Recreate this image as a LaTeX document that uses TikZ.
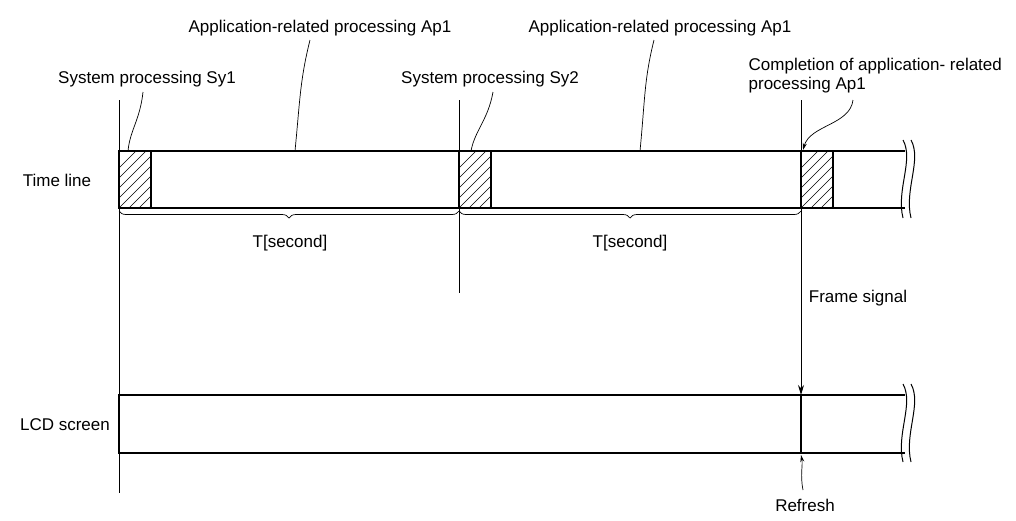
\documentclass[tikz,border=0pt]{standalone}
\usepackage{fontspec}
\setmainfont{Liberation Sans}
\usetikzlibrary{decorations.pathreplacing,arrows.meta}
\begin{document}
\begin{tikzpicture}[x=1pt,y=-1pt,line width=1.3pt,
  lbl/.style={font=\fontsize{17}{19}\selectfont,inner sep=0pt},
  lead/.style={line width=0.7pt},
  brk/.style={line width=1pt}]
\useasboundingbox (0,0) rectangle (1016,520);
% timeline
\draw (119,151) -- (905,151) (119,208) -- (905,208);
\foreach \x in {119,459,801}{
  \begin{scope}
  \clip (\x,151) rectangle (\x+32,208);
  \foreach \k in {-40,-30,...,60}{\draw[line width=0.6pt] (\x+\k,208) -- (\x+\k+57,151);}
  \end{scope}
  \draw (\x,151) rectangle (\x+32,208);
}
\foreach \o in {0,8}{\draw[brk] (903+\o,140) .. controls (914+\o,160) and (896+\o,190) .. (903+\o,218);}
% LCD
\draw (119,395) rectangle (801,453);
\draw (801,395) -- (905,395) (801,453) -- (905,453);
\foreach \o in {0,8}{\draw[brk] (903+\o,384) .. controls (914+\o,404) and (896+\o,434) .. (903+\o,462);}
% verticals
\draw[lead] (119,100) -- (119,493);
\draw[lead] (459,100) -- (459,293);
\coordinate (fs) at (801,100);
\coordinate (lcdtop) at (801,395);
\draw[line width=1pt,-{Stealth[length=10pt,width=6pt]}] (fs) -- (lcdtop);
% braces
\draw[lead,decorate,decoration={brace,mirror,amplitude=7pt}] (119,211) -- (459,211);
\draw[lead,decorate,decoration={brace,mirror,amplitude=7pt}] (459,211) -- (801,211);
\node[lbl] (t1) at (290,243) {T[second]};
\node[lbl] (t2) at (630,243) {T[second]};
% labels
\node[lbl] (tl) at (57,180) {Time line};
\node[lbl] (lcd) at (65,425) {LCD screen};
\node[lbl] (ap1) at (320,28) {Application-related processing Ap1};
\node[lbl] (ap2) at (660,28) {Application-related processing Ap1};
\node[lbl] (sy1) at (147,79) {System processing Sy1};
\node[lbl] (sy2) at (490,79) {System processing Sy2};
\node[lbl,align=left,anchor=west] (cp) at (748,76) {Completion of application- related\\processing Ap1};
\node[lbl] (fsl) at (858,298) {Frame signal};
\node[lbl] (rf) at (805,505) {Refresh};
\draw[lead] (310,40) .. controls (300,80) and (300,100) .. (295,151);
\draw[lead] (654,40) .. controls (644,80) and (645,100) .. (640,151);
\draw[lead] (143,92) .. controls (140,120) and (130,130) .. (128,151);
\draw[lead] (493,92) .. controls (488,120) and (475,130) .. (471,151);
\draw[lead,-{Stealth[length=7pt,width=4pt]}] (853,100) .. controls (850,125) and (810,125) .. (803,150);
\draw[lead,-{Stealth[length=7pt,width=4pt]}] (803,490) .. controls (800,475) and (803,465) .. (801,455);
\end{tikzpicture}
\end{document}
